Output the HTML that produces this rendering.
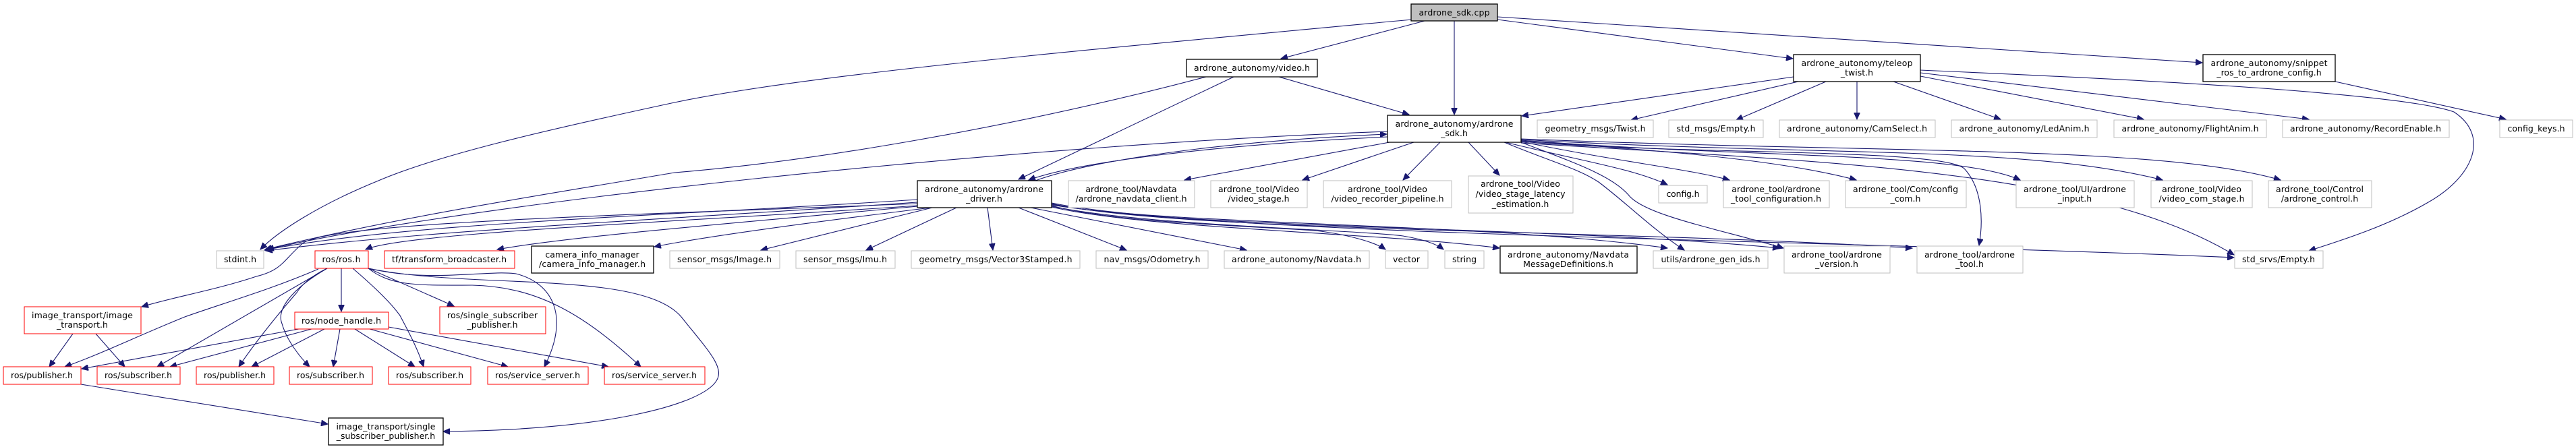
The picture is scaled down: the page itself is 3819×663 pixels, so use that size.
<!DOCTYPE html>
<html><head><meta charset="utf-8"><style>
html,body{margin:0;padding:0;background:#fff;}
svg{display:block;}
text{font-family:"DejaVu Sans","Liberation Sans",sans-serif;font-size:12.5px;fill:#000;text-anchor:middle;}
.e{fill:none;stroke:#191970;stroke-width:1.1;marker-end:url(#a);}
.b{fill:#fff;stroke:#000;stroke-width:1.3;}
.g{fill:#fff;stroke:#bfbfbf;stroke-width:1;}
.r{fill:#fff;stroke:#ff0000;stroke-width:1;}
</style></head><body>
<svg width="3819" height="663" viewBox="0 0 3819 663" xmlns="http://www.w3.org/2000/svg">
<defs><marker id="a" markerUnits="userSpaceOnUse" markerWidth="11" markerHeight="9" refX="10" refY="4.5" orient="auto"><path d="M0,0 L10,4.5 L0,9 Z" fill="#191970" stroke="#191970"/></marker></defs>

<!-- edges -->
<path class="e" d="M2093,29 C1600,75 1200,110 1000,152 C800,195 650,230 561,268 C470,305 410,345 386,370"/>
<path class="e" d="M2112,31 L1899,87"/>
<path class="e" d="M2156,31 L2156,170"/>
<path class="e" d="M2220,29 L2658,87"/>
<path class="e" d="M2220,25 L3265,93"/>
<path class="e" d="M1788,114 C1500,190 1200,240 1000,256 C800,290 600,320 393,370"/>
<path class="e" d="M1829,114 L1510,266"/>
<path class="e" d="M1896,114 L2089,170"/>
<path class="e" d="M2659,114 L2256,172"/>
<path class="e" d="M2666,121 L2418,178"/>
<path class="e" d="M2707,121 L2574,178"/>
<path class="e" d="M2753,121 L2753,177"/>
<path class="e" d="M2807,121 L2966,177"/>
<path class="e" d="M2847,113 L3178,177"/>
<path class="e" d="M2847,108 L3423,177"/>
<path class="e" d="M2847,104 C3100,115 3550,135 3638,166 C3690,200 3670,260 3600,300 C3540,335 3470,357 3423,372"/>
<path class="e" d="M3462,121 L3715,177"/>
<path class="e" d="M2057,195 C1500,215 700,300 396,370"/>
<path class="e" d="M2057,203 C1800,215 1600,240 1525,267"/>
<path class="e" d="M1535,268 C1610,240 1800,210 2056,199"/>
<path class="e" d="M2060,211 L1756,267"/>
<path class="e" d="M2096,211 L1931,267"/>
<path class="e" d="M2135,211 L2080,267"/>
<path class="e" d="M2177,211 L2223,260"/>
<path class="e" d="M2232,211 C2350,240 2420,250 2472,274"/>
<path class="e" d="M2255,210 C2400,240 2500,250 2564,267"/>
<path class="e" d="M2255,209 C2500,225 2650,240 2752,267"/>
<path class="e" d="M2255,208 C2600,235 2900,225 2995,267"/>
<path class="e" d="M2255,207 C2700,232 3000,215 3206,267"/>
<path class="e" d="M2255,206 C2800,228 3200,215 3381,267"/>
<path class="e" d="M2230,211 C2300,240 2340,250 2370,270 C2410,300 2450,340 2497,371"/>
<path class="e" d="M2255,211 C2330,240 2390,260 2415,290 C2440,320 2550,340 2644,368"/>
<path class="e" d="M2255,210 C2500,230 2880,220 2912,250 C2940,280 2940,330 2934,364"/>
<path class="e" d="M2255,212 C2700,240 3100,250 3312,378"/>
<path class="e" d="M1360,296 C1000,320 600,330 392,371"/>
<path class="e" d="M1360,300 C1000,325 650,340 394,372"/>
<path class="e" d="M1360,305 C1000,330 600,345 542,370"/>
<path class="e" d="M1360,306 C1100,330 850,350 737,370"/>
<path class="e" d="M1380,308 C1200,330 1050,350 970,366"/>
<path class="e" d="M1360,302 C900,320 500,330 450,360 C420,385 420,400 380,410 C320,430 260,440 210,455"/>
<path class="e" d="M1382,308 L1128,371"/>
<path class="e" d="M1418,308 L1284,371"/>
<path class="e" d="M1464,308 L1472,371"/>
<path class="e" d="M1510,308 L1670,371"/>
<path class="e" d="M1528,308 L1848,371"/>
<path class="e" d="M1559,305 C1650,330 1850,335 1950,342 C2000,348 2040,360 2054,370"/>
<path class="e" d="M1559,306 C1700,335 2000,340 2080,350 C2110,355 2130,362 2140,370"/>
<path class="e" d="M1559,307 C1700,340 2050,345 2223,368"/>
<path class="e" d="M1559,304 C1750,335 2200,330 2472,368"/>
<path class="e" d="M1559,303 C1750,340 2300,335 2638,368"/>
<path class="e" d="M1559,302 C1750,345 2400,340 2835,368"/>
<path class="e" d="M1559,301 C1800,350 2700,355 3312,382"/>
<path class="e" d="M506,398 L506,462"/>
<path class="e" d="M546,398 L673,454"/>
<path class="e" d="M472,399 C400,430 330,450 274,470 C200,500 150,525 96,544"/>
<path class="e" d="M485,398 L233,544"/>
<path class="e" d="M485,398 C460,410 445,425 440,434 C400,480 370,520 354,544"/>
<path class="e" d="M485,398 C430,430 410,460 418,480 C425,505 445,530 459,544"/>
<path class="e" d="M523,398 C560,430 580,450 593,468 C610,500 620,520 628,544"/>
<path class="e" d="M546,398 C640,420 720,400 765,406 C820,420 845,470 807,544"/>
<path class="e" d="M546,398 C580,425 620,423 700,423 C800,425 870,470 950,544"/>
<path class="e" d="M546,398 C700,430 950,400 1010,470 C1050,520 1075,545 1062,565 C1040,600 900,638 657,640"/>
<path class="e" d="M108,495 L73,544"/>
<path class="e" d="M142,495 L185,544"/>
<path class="e" d="M443,488 L121,547"/>
<path class="e" d="M462,488 L252,544"/>
<path class="e" d="M481,488 L373,544"/>
<path class="e" d="M504,488 L494,544"/>
<path class="e" d="M526,488 L615,544"/>
<path class="e" d="M548,488 L753,544"/>
<path class="e" d="M576,485 L902,544"/>
<path class="e" d="M120,570 L486,629"/>

<!-- nodes -->
<rect x="2092" y="6" width="128" height="25" fill="#bfbfbf" stroke="#000" stroke-width="1.3"/>
<text x="2156" y="23" textLength="105">ardrone_sdk.cpp</text>

<rect class="b" x="1759" y="88" width="194" height="26"/><text x="1856" y="105" textLength="172">ardrone_autonomy/video.h</text>
<rect class="b" x="2659" y="81" width="188" height="40"/><text x="2753" y="98" textLength="165">ardrone_autonomy/teleop</text><text x="2753" y="112">_twist.h</text>
<rect class="b" x="3266" y="81" width="196" height="40"/><text x="3364" y="98" textLength="173">ardrone_autonomy/snippet</text><text x="3364" y="112">_ros_to_ardrone_config.h</text>
<rect class="b" x="2057" y="171" width="198" height="40"/><text x="2156" y="188" textLength="175">ardrone_autonomy/ardrone</text><text x="2156" y="202">_sdk.h</text>

<rect class="g" x="2279" y="178" width="172" height="26"/><text x="2365" y="195" textLength="149">geometry_msgs/Twist.h</text>
<rect class="g" x="2474" y="178" width="140" height="26"/><text x="2544" y="195" textLength="117">std_msgs/Empty.h</text>
<rect class="g" x="2638" y="178" width="231" height="26"/><text x="2753" y="195" textLength="208">ardrone_autonomy/CamSelect.h</text>
<rect class="g" x="2893" y="178" width="216" height="26"/><text x="3001" y="195" textLength="193">ardrone_autonomy/LedAnim.h</text>
<rect class="g" x="3134" y="178" width="226" height="26"/><text x="3247" y="195" textLength="203">ardrone_autonomy/FlightAnim.h</text>
<rect class="g" x="3384" y="178" width="247" height="26"/><text x="3507" y="195" textLength="224">ardrone_autonomy/RecordEnable.h</text>
<rect class="g" x="3706" y="178" width="108" height="26"/><text x="3760" y="195" textLength="85">config_keys.h</text>

<rect class="b" x="1360" y="268" width="199" height="40"/><text x="1459" y="285" textLength="176">ardrone_autonomy/ardrone</text><text x="1459" y="299">_driver.h</text>
<rect class="g" x="1584" y="268" width="187" height="40"/><text x="1677" y="285">ardrone_tool/Navdata</text><text x="1677" y="299" textLength="165">/ardrone_navdata_client.h</text>
<rect class="g" x="1795" y="268" width="143" height="40"/><text x="1866" y="285" textLength="120">ardrone_tool/Video</text><text x="1866" y="299">/video_stage.h</text>
<rect class="g" x="1962" y="268" width="190" height="40"/><text x="2057" y="285">ardrone_tool/Video</text><text x="2057" y="299" textLength="167">/video_recorder_pipeline.h</text>
<rect class="g" x="2177" y="261" width="155" height="55"/><text x="2254" y="277">ardrone_tool/Video</text><text x="2254" y="292" textLength="133">/video_stage_latency</text><text x="2254" y="307">_estimation.h</text>
<rect class="g" x="2459" y="275" width="72" height="26"/><text x="2495" y="292" textLength="49">config.h</text>
<rect class="g" x="2555" y="268" width="157" height="40"/><text x="2633" y="285">ardrone_tool/ardrone</text><text x="2633" y="299" textLength="134">_tool_configuration.h</text>
<rect class="g" x="2736" y="268" width="179" height="40"/><text x="2825" y="285" textLength="156">ardrone_tool/Com/config</text><text x="2825" y="299">_com.h</text>
<rect class="g" x="2989" y="268" width="175" height="40"/><text x="3076" y="285" textLength="152">ardrone_tool/UI/ardrone</text><text x="3076" y="299">_input.h</text>
<rect class="g" x="3189" y="268" width="150" height="40"/><text x="3264" y="285">ardrone_tool/Video</text><text x="3264" y="299" textLength="127">/video_com_stage.h</text>
<rect class="g" x="3363" y="268" width="153" height="40"/><text x="3439" y="285" textLength="130">ardrone_tool/Control</text><text x="3439" y="299">/ardrone_control.h</text>

<rect class="g" x="321" y="372" width="70" height="26"/><text x="356" y="389" textLength="48">stdint.h</text>
<rect class="r" x="467" y="372" width="79" height="26"/><text x="506" y="389" textLength="57">ros/ros.h</text>
<rect class="r" x="570" y="372" width="193" height="26"/><text x="666" y="389" textLength="170">tf/transform_broadcaster.h</text>
<rect class="b" x="788" y="365" width="181" height="40"/><text x="878" y="382">camera_info_manager</text><text x="878" y="396" textLength="158">/camera_info_manager.h</text>
<rect class="g" x="993" y="372" width="163" height="26"/><text x="1074" y="389" textLength="140">sensor_msgs/Image.h</text>
<rect class="g" x="1180" y="372" width="147" height="26"/><text x="1253" y="389" textLength="124">sensor_msgs/Imu.h</text>
<rect class="g" x="1351" y="372" width="250" height="26"/><text x="1476" y="389" textLength="227">geometry_msgs/Vector3Stamped.h</text>
<rect class="g" x="1625" y="372" width="166" height="26"/><text x="1708" y="389" textLength="143">nav_msgs/Odometry.h</text>
<rect class="g" x="1815" y="372" width="215" height="26"/><text x="1922" y="389" textLength="192">ardrone_autonomy/Navdata.h</text>
<rect class="g" x="2054" y="372" width="63" height="26"/><text x="2085" y="389" textLength="40">vector</text>
<rect class="g" x="2142" y="372" width="58" height="26"/><text x="2171" y="389" textLength="36">string</text>
<rect class="b" x="2224" y="365" width="203" height="40"/><text x="2325" y="382" textLength="180">ardrone_autonomy/Navdata</text><text x="2325" y="396">MessageDefinitions.h</text>
<rect class="g" x="2451" y="372" width="170" height="26"/><text x="2536" y="389" textLength="147">utils/ardrone_gen_ids.h</text>
<rect class="g" x="2645" y="365" width="157" height="40"/><text x="2723" y="382" textLength="134">ardrone_tool/ardrone</text><text x="2723" y="396">_version.h</text>
<rect class="g" x="2842" y="365" width="157" height="40"/><text x="2920" y="382" textLength="134">ardrone_tool/ardrone</text><text x="2920" y="396">_tool.h</text>
<rect class="g" x="3313" y="372" width="131" height="26"/><text x="3378" y="389" textLength="108">std_srvs/Empty.h</text>

<rect class="r" x="36" y="455" width="173" height="40"/><text x="122" y="472" textLength="150">image_transport/image</text><text x="122" y="486">_transport.h</text>
<rect class="r" x="437" y="463" width="139" height="25"/><text x="506" y="480" textLength="118">ros/node_handle.h</text>
<rect class="r" x="652" y="455" width="157" height="40"/><text x="730" y="472" textLength="134">ros/single_subscriber</text><text x="730" y="486">_publisher.h</text>

<rect class="r" x="5" y="544" width="115" height="26"/><text x="62" y="561" textLength="92">ros/publisher.h</text>
<rect class="r" x="144" y="544" width="123" height="26"/><text x="205" y="561" textLength="100">ros/subscriber.h</text>
<rect class="r" x="291" y="544" width="115" height="26"/><text x="348" y="561" textLength="92">ros/publisher.h</text>
<rect class="r" x="429" y="544" width="123" height="26"/><text x="490" y="561" textLength="100">ros/subscriber.h</text>
<rect class="r" x="576" y="544" width="122" height="26"/><text x="637" y="561" textLength="100">ros/subscriber.h</text>
<rect class="r" x="723" y="544" width="149" height="26"/><text x="797" y="561" textLength="126">ros/service_server.h</text>
<rect class="r" x="896" y="544" width="149" height="26"/><text x="970" y="561" textLength="126">ros/service_server.h</text>

<rect class="b" x="487" y="620" width="170" height="40"/><text x="572" y="637" textLength="147">image_transport/single</text><text x="572" y="651">_subscriber_publisher.h</text>
</svg>
</body></html>
